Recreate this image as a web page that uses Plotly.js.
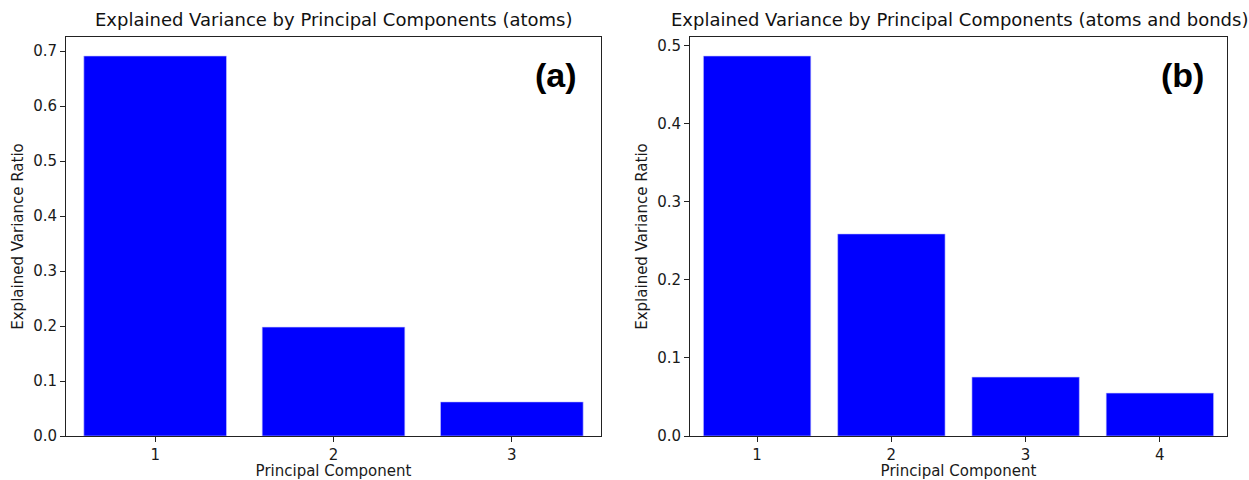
<!DOCTYPE html>
<html><head><meta charset="utf-8">
<script src="https://cdn.plot.ly/plotly-3.0.1.min.js"></script>
<style>body{margin:0;padding:0;background:#fff}#chart{width:1249px;height:480px}</style>
</head><body><div id="chart"></div>
<script>
const componentsA = [1, 2, 3];
const varianceA = [0.691, 0.198, 0.062];
const componentsB = [1, 2, 3, 4];
const varianceB = [0.487, 0.259, 0.0755, 0.055];
const titleA = "Explained Variance by Principal Components (atoms)";
const titleB = "Explained Variance by Principal Components (atoms and bonds)";
const xLabel = "Principal Component";
const yLabel = "Explained Variance Ratio";

const txt = "#1a1a1a";
const font = {family: "DejaVu Sans", size: 15, color: txt};
const barStyle = {color: "#0000ff", line: {color: "#c8c8ff", width: 0.6}};

const traces = [
  {type: "bar", x: componentsA, y: varianceA, width: 0.8, marker: barStyle, xaxis: "x", yaxis: "y", hoverinfo: "x+y"},
  {type: "bar", x: componentsB, y: varianceB, width: 0.8, marker: barStyle, xaxis: "x2", yaxis: "y2", hoverinfo: "x+y"}
];

const axCommon = {showgrid: false, zeroline: false, showline: true, mirror: true, linecolor: "#222", linewidth: 1,
  ticks: "outside", ticklen: 5, tickwidth: 1, tickcolor: "#222", tickfont: {family: "DejaVu Sans", size: 15, color: txt}};

const yDom = [44/480, 443/480];
const titleFont = {family: "DejaVu Sans", size: 15, color: txt};
const layout = {
  width: 1249, height: 480,
  margin: {l: 0, r: 0, t: 0, b: 0},
  paper_bgcolor: "#fff", plot_bgcolor: "#fff",
  showlegend: false, font: font,
  xaxis: Object.assign({}, axCommon, {domain: [66/1249, 601/1249], range: [0.5, 3.5], tickvals: componentsA, anchor: "y",
    title: {text: xLabel, font: titleFont, standoff: 6}}),
  yaxis: Object.assign({}, axCommon, {domain: yDom, range: [0, 0.691*1.05], dtick: 0.1, tickformat: ".1f", anchor: "x",
    title: {text: yLabel, font: titleFont, standoff: 5}}),
  xaxis2: Object.assign({}, axCommon, {domain: [690/1249, 1227/1249], range: [0.5, 4.5], tickvals: componentsB, anchor: "y2",
    title: {text: xLabel, font: titleFont, standoff: 6}}),
  yaxis2: Object.assign({}, axCommon, {domain: yDom, range: [0, 0.487*1.05], dtick: 0.1, tickformat: ".1f", anchor: "x2",
    title: {text: yLabel, font: titleFont, standoff: 5}}),
  annotations: [
    {text: titleA, xref: "paper", yref: "paper", x: 334/1249, y: 1 - 20/480, xanchor: "center", yanchor: "middle", showarrow: false,
      font: {family: "DejaVu Sans", size: 18, color: "#111"}},
    {text: titleB, xref: "paper", yref: "paper", x: 959/1249, y: 1 - 20/480, xanchor: "center", yanchor: "middle", showarrow: false,
      font: {family: "DejaVu Sans", size: 18, color: "#111"}},
    {text: "<b>(a)</b>", xref: "paper", yref: "paper", x: 556/1249, y: 1 - 75/480, xanchor: "center", yanchor: "middle", showarrow: false,
      font: {family: "Liberation Sans", size: 34, color: "#000"}},
    {text: "<b>(b)</b>", xref: "paper", yref: "paper", x: 1182/1249, y: 1 - 75/480, xanchor: "center", yanchor: "middle", showarrow: false,
      font: {family: "Liberation Sans", size: 34, color: "#000"}}
  ]
};
Plotly.newPlot("chart", traces, layout, {displayModeBar: false, staticPlot: true});
</script></body></html>
